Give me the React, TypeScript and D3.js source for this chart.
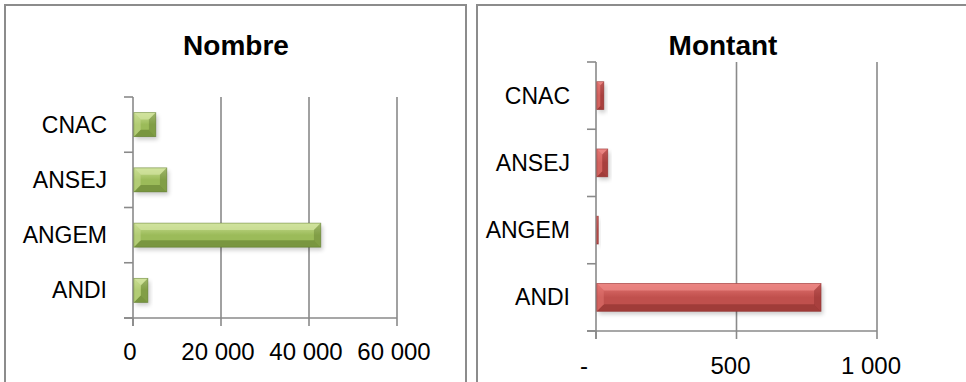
import React from "react";
import * as d3 from "d3";

const categories = ["CNAC", "ANSEJ", "ANGEM", "ANDI"];
const nombreValues = [5000, 7500, 42500, 3200];
const montantValues = [25, 39, 5, 798];
const nombreTicks = [0, 20000, 40000, 60000];
const montantTicks = [0, 500, 1000];
const nombreTitle = "Nombre";
const montantTitle = "Montant";

const FONT = "'Liberation Sans', Arial, sans-serif";
const GRID = "#8a8a8a";

type PanelProps = {
  title: string;
  titleX: number;
  values: number[];
  ticks: number[];
  domainMax: number;
  x0: number;
  x1: number;
  y0: number;
  y1: number;
  labelX: number;
  tickLabelY: number;
  fmt: (v: number) => string;
  tickDx: (v: number) => number;
  colors: { light: string; mid: string; dark: string; edge: string; top: string };
  id: string;
  barFrac: number;
};

function Bar({ x, y, w, h, c, id }: any) {
  const xa = x, xb = x + w, ya = y, yb = y + h;
  let b = Math.min(7, h / 3.5, w / 2);
  const poly = (pts: number[][]) => pts.map((p) => p.join(",")).join(" ");
  return (
    <g>
      <rect x={x + 2} y={y + 3} width={w} height={h} fill="#000" opacity={0.2} filter={`url(#blur)`} />
      <rect x={xa} y={ya} width={w} height={h} fill={`url(#g-${id})`} />
      <polygon points={poly([[xa, ya], [xb, ya], [xb - b, ya + b], [xa + b, ya + b]])} fill={c.top} opacity={0.7} />
      <polygon points={poly([[xa, yb], [xb, yb], [xb - b, yb - b], [xa + b, yb - b]])} fill={c.dark} opacity={0.45} />
      <polygon points={poly([[xa, ya], [xa + b, ya + b], [xa + b, yb - b], [xa, yb]])} fill={c.light} opacity={0.5} />
      <polygon points={poly([[xb, ya], [xb - b, ya + b], [xb - b, yb - b], [xb, yb]])} fill={c.dark} opacity={0.35} />
      <rect x={xa} y={ya} width={w} height={h} fill="none" stroke={c.edge} strokeWidth={0.8} opacity={0.6} />
    </g>
  );
}

function Panel(p: PanelProps) {
  const x = d3.scaleLinear().domain([0, p.domainMax]).range([p.x0, p.x1]);
  const pad = 1 - p.barFrac;
  const y = d3
    .scaleBand<string>()
    .domain(categories)
    .range([p.y0, p.y1])
    .paddingInner(pad)
    .paddingOuter(pad / 2);
  const step = y.step();
  const boundaries = d3.range(categories.length + 1).map((i) => p.y0 + i * step);
  return (
    <g>
      <defs>
        <linearGradient id={`g-${p.id}`} x1="0" y1="0" x2="0" y2="1">
          <stop offset="0" stopColor={p.colors.light} />
          <stop offset="0.5" stopColor={p.colors.mid} />
          <stop offset="1" stopColor={p.colors.mid} />
        </linearGradient>
      </defs>
      <text x={p.titleX} y={55} textAnchor="middle" fontFamily={FONT} fontWeight="bold" fontSize={28} fill="#000">
        {p.title}
      </text>
      {p.ticks.filter((t) => t > 0).map((t) => (
        <line key={t} x1={x(t)} x2={x(t)} y1={p.y0} y2={p.y1} stroke={GRID} strokeWidth={1.6} />
      ))}
      {p.ticks.map((t) => (
        <line key={"tk" + t} x1={x(t)} x2={x(t)} y1={p.y1} y2={p.y1 + 8} stroke={GRID} strokeWidth={1.6} />
      ))}
      {boundaries.map((b, i) => (
        <line key={"cb" + i} x1={p.x0 - 9} x2={p.x0} y1={b} y2={b} stroke={GRID} strokeWidth={1.6} />
      ))}
      <line x1={p.x0 - 9} x2={p.x1} y1={p.y1} y2={p.y1} stroke={GRID} strokeWidth={1.6} />
      <line x1={p.x0} x2={p.x0} y1={p.y0} y2={p.y1 + 8} stroke={GRID} strokeWidth={1.6} />
      {categories.map((c, i) => {
        const v = p.values[i];
        const w = Math.max(1.5, x(v) - x(0));
        return (
          <Bar key={c} x={x(0) + 0.8} y={y(c)!} w={w} h={y.bandwidth()} c={p.colors} id={p.id} />
        );
      })}
      {categories.map((c) => (
        <text key={"l" + c} x={p.labelX} y={y(c)! + y.bandwidth() / 2 + 8} textAnchor="end" fontFamily={FONT} fontSize={23} fill="#000">
          {c}
        </text>
      ))}
      {p.ticks.map((t) => (
        <text key={"tl" + t} x={x(t) + p.tickDx(t)} y={p.tickLabelY} textAnchor="middle" fontFamily={FONT} fontSize={24} fill="#000">
          {p.fmt(t)}
        </text>
      ))}
    </g>
  );
}

const spaceFmt = (v: number) => d3.format(",")(v).replace(/,/g, " ");

export default function App() {
  return (
    <svg width={966} height={382} style={{ position: "absolute", left: 0, top: 0, background: "#fff" }}>
      <defs>
        <filter id="blur" x="-20%" y="-50%" width="140%" height="200%">
          <feGaussianBlur stdDeviation="2.2" />
        </filter>
      </defs>
      <rect x={0} y={0} width={966} height={382} fill="#fff" />
      <rect x={5} y={5} width={461} height={400} fill="#fff" stroke="#8c8c8c" strokeWidth={2} />
      <rect x={477} y={5} width={520} height={400} fill="#fff" stroke="#8c8c8c" strokeWidth={2} />
      <Panel
        id="n"
        title={nombreTitle}
        titleX={236}
        values={nombreValues}
        ticks={nombreTicks}
        domainMax={60000}
        x0={133}
        x1={397}
        y0={97}
        y1={318}
        labelX={107}
        tickLabelY={360}
        fmt={spaceFmt}
        tickDx={() => -3}
        barFrac={0.435}
        colors={{ light: "#c9de92", mid: "#9bbb59", dark: "#4f6b22", edge: "#5c7a2c", top: "#d4e6a3" }}
      />
      <Panel
        id="m"
        title={montantTitle}
        titleX={723}
        values={montantValues}
        ticks={montantTicks}
        domainMax={1000}
        x0={596}
        x1={877}
        y0={62}
        y1={331}
        labelX={570}
        tickLabelY={374}
        fmt={(v) => (v === 0 ? "-" : spaceFmt(v))}
        tickDx={(v) => (v === 0 ? -12 : -6)}
        barFrac={0.415}
        colors={{ light: "#e47572", mid: "#c0504d", dark: "#7a2321", edge: "#8a2c2a", top: "#ee8c89" }}
      />
    </svg>
  );
}
